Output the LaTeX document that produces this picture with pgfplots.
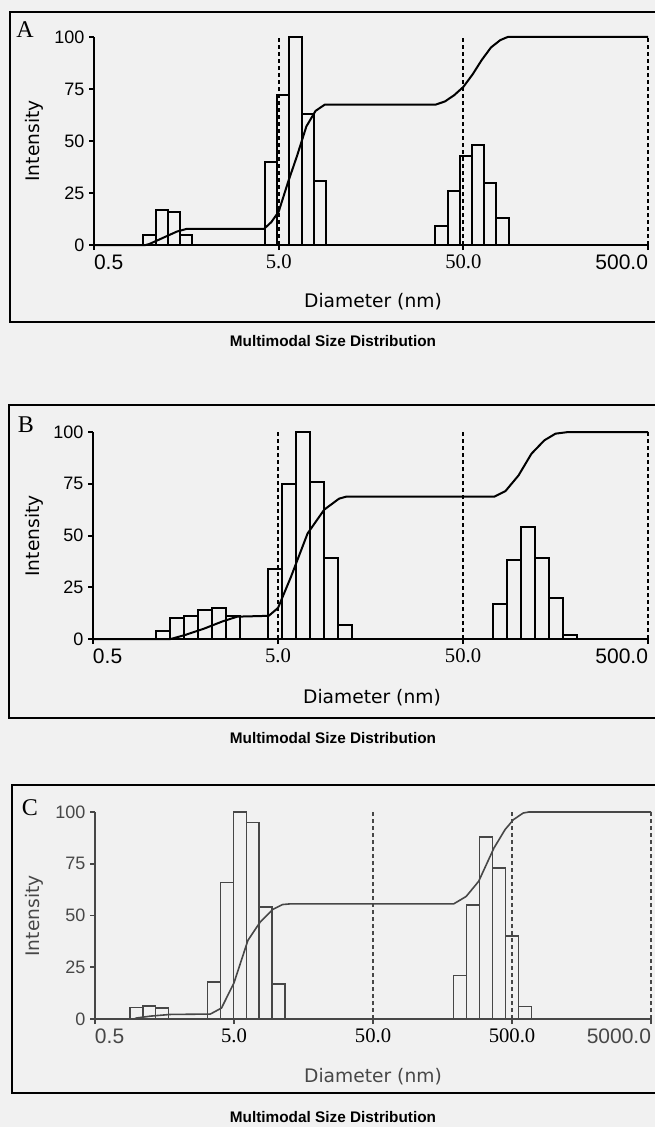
\documentclass[border=0pt]{standalone}
\usepackage{fontspec}
\setmainfont{Liberation Sans}
\newfontfamily\dejavu{DejaVu Sans}
\newfontfamily\tnr{Liberation Serif}
\usepackage{pgfplots}
\pgfplotsset{compat=1.18}

\definecolor{paper}{gray}{0.945}
\colorlet{inkC}{black!72}

% text styles
\newcommand{\xsans}{\fontsize{15.75}{18}\selectfont}
\newcommand{\xserif}{\tnr\fontsize{15.5}{18}\selectfont}
\newcommand{\ytickfont}{\fontsize{13.5}{15}\selectfont}
\newcommand{\labfont}{\dejavu\fontsize{14}{16}\selectfont}
\newcommand{\capfont}{\bfseries\fontsize{11.5}{13}\selectfont}
\newcommand{\letfont}{\tnr\fontsize{18}{20}\selectfont}
\newcommand{\lalign}[1]{\makebox[0pt][l]{#1}}
\newcommand{\ralign}[1]{\makebox[0pt][r]{#1}}

\tikzset{
  barsK/.style={draw=black, fill=none, line width=1.5pt},
  cumK/.style={draw=black, line width=1.5pt, line join=round},
  refK/.style={draw=black, line width=1.5pt, dash pattern=on 3pt off 2.25pt},
  barsC/.style={draw=inkC, fill=none, line width=1.2pt},
  cumC/.style={draw=inkC, line width=1.2pt, line join=round},
  refC/.style={draw=inkC, line width=1.2pt, dash pattern=on 3pt off 2.25pt},
}

\begin{document}
\begin{tikzpicture}
\path[use as bounding box, fill=paper] (0,0) rectangle (491.25pt,-845.25pt);

% ---------------- A ----------------
\begin{axis}[scale only axis, anchor=south west, at={(70.5pt,-183.75pt)},
  width=415.5pt, height=156pt, xmode=log,
  xmin=0.5, xmax=500, ymin=0, ymax=100,
  axis x line=bottom, axis y line=left,
  axis line style={-, line width=1.5pt, black},
  tick align=outside, major tick length=3.75pt,
  tick style={line width=1.5pt, black},
  minor xtick={}, xminorticks=false, yminorticks=false,
  ytick={0,25,50,75,100}, yticklabels={0,25,50,75,100},
  yticklabel style={font=\ytickfont},
  xticklabel style={font=\xsans},
  clip=false,
  xtick={0.5,5,50,500},
  xticklabels={\lalign{0.5},{\xserif\raisebox{3pt}{5.0}},{\xserif\raisebox{3pt}{50.0}},\ralign{500.0}}]
\addplot[refK] coordinates {(5,0) (5,100)};
\addplot[refK] coordinates {(50,0) (50,100)};
\addplot[refK] coordinates {(500,0) (500,100)};
\addplot[ybar interval, barsK] table {
0.925 5
1.077 17
1.253 16
1.458 5
1.697 0
};
\addplot[ybar interval, barsK] table {
4.219 40
4.910 72
5.715 100
6.652 63
7.742 31
9.011 0
};
\addplot[ybar interval, barsK] table {
35.32 9
41.11 26
47.85 43
55.69 48
64.82 30
75.44 13
87.81 0
};
\addplot[cumK] table {
0.5 0
0.953 0
0.998 0.5
1.120 2.5
1.256 4.5
1.409 6.5
1.581 7.7
4.160 7.7
4.561 11
5.000 16
5.610 30
6.295 43
7.063 57
7.924 64.5
8.891 67.5
35.40 67.5
39.72 69
44.57 72
50.00 76
56.10 82
62.95 89
70.63 95
79.24 98.5
86.89 100
500 100
};
\end{axis}

% ---------------- B ----------------
\begin{axis}[scale only axis, anchor=south west, at={(69.75pt,-479.25pt)},
  width=416.25pt, height=155.25pt, xmode=log,
  xmin=0.5, xmax=500, ymin=0, ymax=100,
  axis x line=bottom, axis y line=left,
  axis line style={-, line width=1.5pt, black},
  tick align=outside, major tick length=3.75pt,
  tick style={line width=1.5pt, black},
  minor xtick={}, xminorticks=false, yminorticks=false,
  ytick={0,25,50,75,100}, yticklabels={0,25,50,75,100},
  yticklabel style={font=\ytickfont},
  xticklabel style={font=\xsans},
  clip=false,
  xtick={0.5,5,50,500},
  xticklabels={\lalign{0.5},{\xserif 5.0},{\xserif 50.0},\ralign{500.0}}]
\addplot[refK] coordinates {(5,0) (5,100)};
\addplot[refK] coordinates {(50,0) (50,100)};
\addplot[refK] coordinates {(500,0) (500,100)};
\addplot[ybar interval, barsK] table {
1.092 4
1.300 10
1.548 11
1.844 14
2.196 15
2.616 11
3.115 0
};
\addplot[ybar interval, barsK] table {
4.419 34
5.263 75
6.268 100
7.465 76
8.891 39
10.589 7
12.612 0
};
\addplot[ybar interval, barsK] table {
72.43 17
86.27 38
102.74 54
122.37 39
145.74 20
173.57 2
206.72 0
};
\addplot[cumK] table {
0.5 0
1.315 0
1.581 2
1.991 5
2.506 8.5
3.013 10.8
4.456 11.2
5.000 15
5.874 30
7.227 51
8.891 62.5
10.69 67.8
11.72 68.8
73.95 68.8
84.90 71.5
99.76 79
117.2 89.5
137.7 96
158.1 99.2
185.8 100
500 100
};
\end{axis}

% ---------------- C ----------------
\begin{axis}[scale only axis, anchor=south west, at={(71.25pt,-764.25pt)},
  width=417pt, height=155.25pt, xmode=log,
  xmin=0.5, xmax=5000, ymin=0, ymax=100,
  axis x line=bottom, axis y line=left,
  axis line style={-, line width=1.2pt, inkC},
  tick align=outside, major tick length=3.75pt,
  tick style={line width=1.2pt, inkC},
  minor xtick={}, xminorticks=false, yminorticks=false,
  ytick={0,25,50,75,100}, yticklabels={0,25,50,75,100},
  yticklabel style={font=\ytickfont, text=inkC},
  xticklabel style={font=\xsans, text=inkC},
  clip=false,
  xtick={0.5,5,50,500,5000},
  xticklabels={\lalign{0.5},{\xserif\color{black} 5.0},{\xserif\color{black} 50.0},{\xserif\color{black} 500.0},\ralign{5000.0}}]
\addplot[refC] coordinates {(50,0) (50,100)};
\addplot[refC] coordinates {(500,0) (500,100)};
\addplot[refC] coordinates {(5000,0) (5000,100)};
\addplot[ybar interval, barsC] table {
0.889 5.6
1.102 6.4
1.366 5.4
1.693 0
};
\addplot[ybar interval, barsC] table {
3.222 18
3.993 66
4.949 100
6.134 95
7.602 54
9.422 17
11.678 0
};
\addplot[ybar interval, barsC] table {
190.1 21
235.6 55
292.0 88
361.9 73
448.5 40
555.9 6
689.0 0
};
\addplot[cumC] table {
0.5 0
0.953 0
0.998 0.5
1.256 1.4
1.733 2.2
3.380 2.4
4.065 5.3
5.000 17.5
6.295 38
7.745 47
9.527 53
11.19 55.3
12.56 55.6
190.1 55.6
233.9 59.2
287.7 66.5
370.7 82.6
445.6 91.5
511.6 96.3
601.1 99.5
659.2 100
5000 100
};
\end{axis}

% ---------------- frames and captions ----------------
\begin{scope}[x=0.75pt, y=-0.75pt]
  \draw[line width=1.5pt] (10,12) rectangle (680,322);
  \draw[line width=1.5pt] (9,405) rectangle (680,718);
  \draw[line width=1.5pt] (12,785) rectangle (680,1093);

  \node[font=\letfont] at (25,30) {A};
  \node[font=\letfont] at (26,425) {B};
  \node[font=\letfont] at (30,808) {C};

  \node[font=\labfont, rotate=90] at (34,141) {Intensity};
  \node[font=\labfont, rotate=90] at (34,536) {Intensity};
  \node[font=\labfont, rotate=90, text=inkC] at (34,916) {Intensity};

  \node[font=\labfont] at (373,302) {Diameter (nm)};
  \node[font=\labfont] at (372,698) {Diameter (nm)};
  \node[font=\labfont, text=inkC] at (373,1077) {Diameter (nm)};

  \node[font=\capfont] at (333,341.5) {Multimodal Size Distribution};
  \node[font=\capfont] at (333,738) {Multimodal Size Distribution};
  \node[font=\capfont] at (333,1117) {Multimodal Size Distribution};
\end{scope}
\end{tikzpicture}
\end{document}
